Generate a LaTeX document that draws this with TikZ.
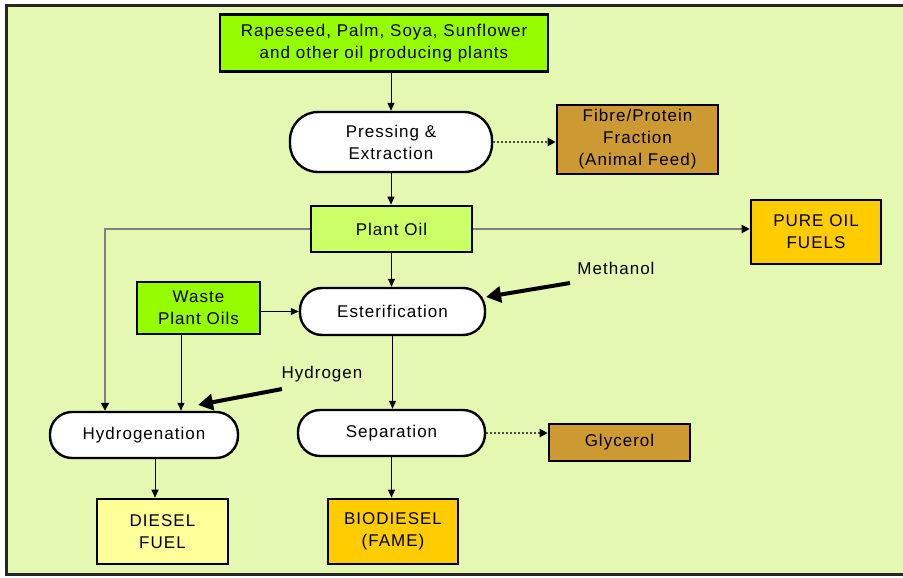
\documentclass[tikz,border=0pt]{standalone}
\usepackage{fontspec}
\setmainfont{Liberation Sans}[LetterSpace=6]
\usetikzlibrary{arrows.meta,calc}
\definecolor{bgpanel}{RGB}{229,248,177}
\definecolor{brightgreen}{RGB}{150,252,0}
\definecolor{palegreen}{RGB}{204,255,102}
\definecolor{fibrebrown}{RGB}{204,153,51}
\definecolor{fuelorange}{RGB}{255,204,0}
\definecolor{diesely}{RGB}{255,255,153}
\definecolor{feedgray}{RGB}{128,128,128}
\tikzset{
  txt/.style={font=\fontsize{17}{22}\selectfont, align=center, inner sep=0pt},
  box/.style={txt, draw=black, line width=2.6pt, rectangle},
  proc/.style={txt, draw=black, line width=2.4pt, fill=white, rounded corners=22pt},
  flow/.style={draw=black, line width=1pt, -{Triangle[length=8pt,width=7pt]}},
  graywire/.style={draw=feedgray, line width=2pt, -{Triangle[length=8pt,width=8pt,color=black]}},
  byprod/.style={draw=black!70, line width=2pt, dotted, -{Triangle[length=8pt,width=8pt,color=black]}},
  feed/.style={draw=black, line width=4pt, -{Triangle[length=15pt,width=16pt]}},
}
\begin{document}
\begin{tikzpicture}[x=1pt,y=-1pt]
  \useasboundingbox (0,0) rectangle (903,578);
  \fill[white] (0,0) rectangle (903,578);
  \fill[bgpanel] (6,6) rectangle (903,574);
  \draw[line width=3pt, black!85] (910,6) -- (6,6) -- (6,574) -- (910,574);

  % boxes and process steps
  \node[box, fill=brightgreen, minimum width=328pt, minimum height=57pt] (src) at (384,43)
    {Rapeseed, Palm, Soya, Sunflower\\and other oil producing plants};
  \node[proc, minimum width=202pt, minimum height=60pt, rounded corners=28pt] (press) at (391,142)
    {Pressing \&\\Extraction};
  \node[box, fill=fibrebrown, minimum width=161pt, minimum height=69pt] (fibre) at (637.5,139.5)
    {Fibre/Protein\\Fraction\\(Animal Feed)};
  \node[box, fill=palegreen, minimum width=161pt, minimum height=46pt] (oil) at (391.5,229)
    {Plant Oil};
  \node[box, fill=fuelorange, minimum width=130pt, minimum height=64pt] (pure) at (816,232)
    {PURE OIL\\FUELS};
  \node[box, fill=brightgreen, minimum width=123pt, minimum height=52pt] (waste) at (198.5,308)
    {Waste\\Plant Oils};
  \node[proc, minimum width=185pt, minimum height=47pt] (ester) at (392.5,311.5)
    {Esterification};
  \node[proc, minimum width=188pt, minimum height=46pt] (hydro) at (144,435)
    {Hydrogenation};
  \node[proc, minimum width=187pt, minimum height=46pt] (sep) at (391.5,433)
    {Separation};
  \node[box, fill=fibrebrown, minimum width=141pt, minimum height=37pt] (glyc) at (619.5,442.5)
    {Glycerol};
  \node[box, fill=diesely, minimum width=131pt, minimum height=65pt] (diesel) at (162.5,531.5)
    {DIESEL\\FUEL};
  \node[box, fill=fuelorange, minimum width=130pt, minimum height=65pt] (bio) at (393,531.5)
    {BIODIESEL\\(FAME)};

  % reagent labels
  \node[txt] (meth) at (616,268) {Methanol};
  \node[txt] (hyd) at (322,374) {Hydrogen};
  \coordinate (mtail) at (570,283);
  \coordinate (mtip) at (486,297);
  \coordinate (htail) at (282,389);
  \coordinate (htip) at (198,405);

  % main flow
  \draw[flow] (src.south -| press.north) -- (press.north);
  \draw[flow] (press.south) -- (oil.north -| press.south);
  \draw[flow] (oil.south) -- (oil.south |- ester.north);
  \draw[flow] (waste.east |- ester.west) -- (ester.west);
  \draw[flow] (ester.south) -- (ester.south |- sep.north);
  \draw[flow] (sep.south) -- (sep.south |- bio.north);
  \draw[flow] ([xshift=11pt]hydro.south) -- ([xshift=11pt]hydro.south |- diesel.north);
  \draw[flow] ([xshift=-17.5pt]waste.south) -- ([xshift=-17.5pt]waste.south |- hydro.north);

  % plant oil branches
  \draw[graywire] (oil.east) -- (pure.west |- oil.east);
  \draw[graywire] (oil.west) -| ([xshift=-39pt]hydro.north);

  % by-products
  \draw[byprod] (press.east) -- (fibre.west |- press.east);
  \draw[byprod] (sep.east) -- (glyc.west |- sep.east);

  % reagents fed in
  \draw[feed] (mtail) -- (mtip);
  \draw[feed] (htail) -- (htip);
\end{tikzpicture}
\end{document}
